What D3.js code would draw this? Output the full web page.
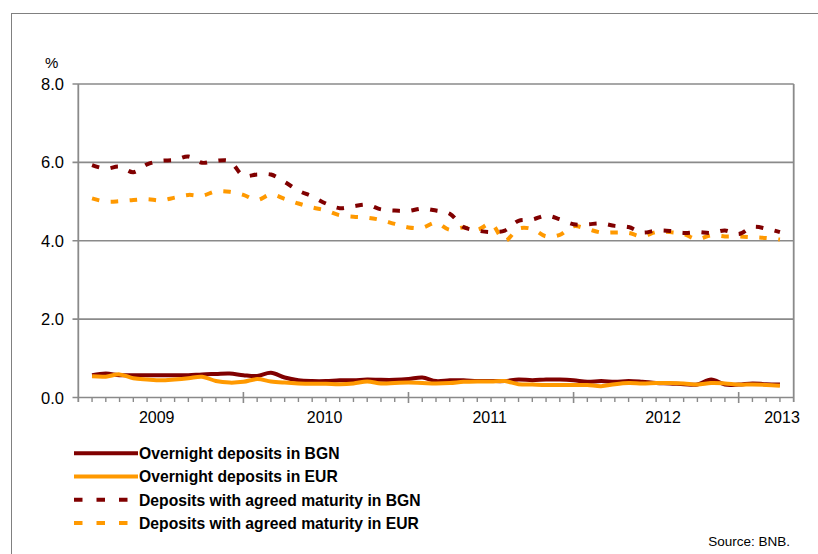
<!DOCTYPE html>
<html>
<head>
<meta charset="utf-8">
<script src="https://cdn.jsdelivr.net/npm/d3@7"></script>
<style>
  html, body { margin: 0; padding: 0; background: #fff; }
  svg { display: block; font-family: Arial, "Liberation Sans", sans-serif; }
</style>
</head>
<body>
<svg id="chart"></svg>
<script>
// monthly observations, Jan 2009 - Mar 2013
const months = ("2009-01 2009-02 2009-03 2009-04 2009-05 2009-06 2009-07 2009-08 2009-09 2009-10 2009-11 2009-12 " +
  "2010-01 2010-02 2010-03 2010-04 2010-05 2010-06 2010-07 2010-08 2010-09 2010-10 2010-11 2010-12 " +
  "2011-01 2011-02 2011-03 2011-04 2011-05 2011-06 2011-07 2011-08 2011-09 2011-10 2011-11 2011-12 " +
  "2012-01 2012-02 2012-03 2012-04 2012-05 2012-06 2012-07 2012-08 2012-09 2012-10 2012-11 2012-12 " +
  "2013-01 2013-02 2013-03").split(" ");

const bgnOvernight = [0.57, 0.61, 0.57, 0.57, 0.57, 0.57, 0.57, 0.57, 0.59, 0.60, 0.61, 0.57,
  0.55, 0.63, 0.51, 0.44, 0.42, 0.42, 0.44, 0.44, 0.46, 0.45, 0.45, 0.47,
  0.51, 0.42, 0.44, 0.44, 0.42, 0.42, 0.42, 0.46, 0.44, 0.46, 0.46, 0.44,
  0.40, 0.42, 0.40, 0.42, 0.40, 0.37, 0.36, 0.34, 0.33, 0.46, 0.33, 0.33,
  0.36, 0.34, 0.33];

const eurOvernight = [0.54, 0.53, 0.59, 0.49, 0.46, 0.44, 0.46, 0.49, 0.53, 0.42, 0.38, 0.40,
  0.47, 0.41, 0.38, 0.36, 0.35, 0.35, 0.34, 0.36, 0.41, 0.36, 0.37, 0.38,
  0.37, 0.36, 0.37, 0.40, 0.41, 0.41, 0.42, 0.34, 0.33, 0.32, 0.32, 0.32,
  0.32, 0.29, 0.34, 0.37, 0.36, 0.37, 0.37, 0.36, 0.33, 0.37, 0.36, 0.33,
  0.33, 0.32, 0.30];

const bgnTerm = [5.93, 5.84, 5.89, 5.75, 5.95, 6.04, 6.06, 6.15, 5.99, 6.04, 6.03, 5.66,
  5.69, 5.69, 5.50, 5.28, 5.13, 4.95, 4.83, 4.88, 4.92, 4.80, 4.77, 4.76,
  4.82, 4.77, 4.69, 4.35, 4.26, 4.22, 4.26, 4.51, 4.54, 4.64, 4.55, 4.42,
  4.42, 4.44, 4.38, 4.35, 4.21, 4.26, 4.25, 4.20, 4.22, 4.20, 4.26, 4.17,
  4.35, 4.31, 4.22];

const eurTerm = [5.08, 5.00, 5.01, 5.04, 5.06, 5.03, 5.10, 5.17, 5.15, 5.26, 5.25, 5.17,
  5.04, 5.18, 5.07, 4.95, 4.85, 4.77, 4.65, 4.61, 4.59, 4.53, 4.43, 4.34,
  4.33, 4.46, 4.28, 4.34, 4.28, 4.43, 4.00, 4.31, 4.30, 4.11, 4.15, 4.37,
  4.30, 4.21, 4.21, 4.20, 4.11, 4.22, 4.22, 4.17, 4.04, 4.14, 4.11, 4.11,
  4.09, 4.07, 4.03];

const seriesNames = ["Overnight deposits in BGN", "Overnight deposits in EUR",
  "Deposits with agreed maturity in BGN", "Deposits with agreed maturity in EUR"];
const yTicks = [0, 2, 4, 6, 8];
const yearLabels = ["2009", "2010", "2011", "2012", "2013"];
const yearLabelAt = [5.7, 17.9, 29.9, 42.5, 51.15];   // in month slots
const yearBreaks = [12, 24, 36, 48];

const W = 818, H = 554;
const dark = "#800000", orange = "#FF9900", gridCol = "#8a8a8a";

const svg = d3.select("#chart").attr("width", W).attr("height", H);

// outer frame (only top and left edges fall inside the picture)
svg.append("rect")
  .attr("x", 11.5).attr("y", 13.5)
  .attr("width", 900).attr("height", 700)
  .attr("fill", "none").attr("stroke", "#808080").attr("stroke-width", 1);

const x = d3.scaleLinear().domain([0, months.length + 1]).range([78.3, 793.7]);
const y = d3.scaleLinear().domain([0, 8]).range([397.5, 84]);

// grid + y ticks
const g = svg.append("g");
g.selectAll("line.grid").data(yTicks).join("line")
  .attr("class", "grid")
  .attr("x1", 72.5).attr("x2", x.range()[1])
  .attr("y1", d => y(d)).attr("y2", d => y(d))
  .attr("stroke", gridCol).attr("stroke-width", 1.6);

g.selectAll("text.ytick").data(yTicks).join("text")
  .attr("class", "ytick")
  .attr("x", 64).attr("y", d => y(d) + 6)
  .attr("text-anchor", "end")
  .attr("font-size", 16.5)
  .text(d => d3.format(".1f")(d));

svg.append("text").attr("x", 51.7).attr("y", 68.3)
  .attr("text-anchor", "middle").attr("font-size", 15).text("%");

// axis lines
g.append("line").attr("x1", x(0)).attr("x2", x(0)).attr("y1", y(8)).attr("y2", y(0) + 4.5)
  .attr("stroke", gridCol).attr("stroke-width", 1.8);
g.append("line").attr("x1", x.range()[1]).attr("x2", x.range()[1]).attr("y1", y(8)).attr("y2", y(0) + 4.5)
  .attr("stroke", gridCol).attr("stroke-width", 1.8);

// month ticks on the x axis
const slots = d3.range(1, months.length + 1);
g.selectAll("line.minor").data(slots.filter(d => !yearBreaks.includes(d))).join("line")
  .attr("class", "minor")
  .attr("x1", d => x(d)).attr("x2", d => x(d))
  .attr("y1", y(0)).attr("y2", y(0) + 4.5)
  .attr("stroke", gridCol).attr("stroke-width", 1.4);
g.selectAll("line.major").data(yearBreaks).join("line")
  .attr("class", "major")
  .attr("x1", d => x(d)).attr("x2", d => x(d))
  .attr("y1", y(0) - 5.5).attr("y2", y(0) + 5.5)
  .attr("stroke", gridCol).attr("stroke-width", 1.6);

g.selectAll("text.year").data(yearLabels).join("text")
  .attr("class", "year")
  .attr("x", (d, i) => x(yearLabelAt[i]))
  .attr("y", 423.3)
  .attr("text-anchor", "middle")
  .attr("font-size", 16)
  .text(d => d);

// series
const line = d3.line()
  .x((d, i) => x(i + 1))
  .y(d => y(d))
  .curve(d3.curveCatmullRom.alpha(0.5));

const series = [
  { values: eurTerm, color: orange, dash: "7.5,11.5" },
  { values: bgnTerm, color: dark, dash: "7.5,11.5" },
  { values: bgnOvernight, color: dark, dash: null },
  { values: eurOvernight, color: orange, dash: null }
];

svg.append("g").selectAll("path").data(series).join("path")
  .attr("d", d => line(d.values))
  .attr("fill", "none")
  .attr("stroke", d => d.color)
  .attr("stroke-width", 4)
  .attr("stroke-linejoin", "round")
  .attr("stroke-dasharray", d => d.dash);

// legend
const legendItems = [
  { name: seriesNames[0], color: dark, dash: null },
  { name: seriesNames[1], color: orange, dash: null },
  { name: seriesNames[2], color: dark, dash: "8.5,14" },
  { name: seriesNames[3], color: orange, dash: "8.5,14" }
];
const leg = svg.append("g").selectAll("g").data(legendItems).join("g")
  .attr("transform", (d, i) => `translate(0, ${453.3 + i * 23.2})`);
leg.append("line")
  .attr("x1", 74).attr("x2", 138)
  .attr("stroke", d => d.color).attr("stroke-width", 4)
  .attr("stroke-dasharray", d => d.dash);
leg.append("text")
  .attr("x", 139).attr("y", 5.8)
  .attr("font-size", 15.7).attr("font-weight", "bold")
  .text(d => d.name);

svg.append("text").attr("x", 790).attr("y", 546)
  .attr("text-anchor", "end").attr("font-size", 13.5)
  .text("Source: BNB.");
</script>
</body>
</html>
